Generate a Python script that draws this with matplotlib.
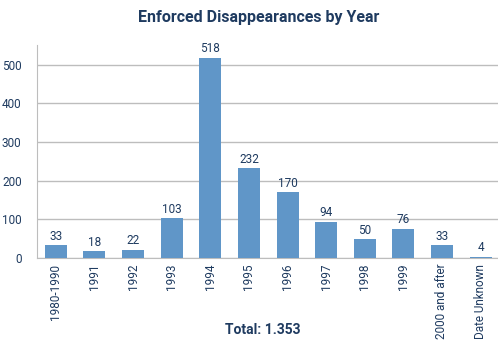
import matplotlib
matplotlib.use("Agg")
import matplotlib.pyplot as plt

categories = ["1980-1990", "1991", "1992", "1993", "1994", "1995", "1996",
              "1997", "1998", "1999", "2000 and after", "Date Unknown"]
values = [33, 18, 22, 103, 518, 232, 170, 94, 50, 76, 33, 4]
yticks = [0, 100, 200, 300, 400, 500]
title = "Enforced Disappearances by Year"
total_label = "Total: 1.353"

navy = "#1f3b60"
bar_color = "#6096c8"
grid_color = "#bdbdbd"

plt.rcParams['font.family'] = ['Roboto', 'DejaVu Sans']

fig = plt.figure(figsize=(4.98, 3.42), dpi=100)
ax = fig.add_axes([0.074, 0.245, 0.926, 0.623])

x = range(len(categories))
bars = ax.bar(x, values, width=0.57, color=bar_color, zorder=3)
for xi, v in zip(x, values):
    ax.text(xi, v + 6, str(v), ha='center', va='bottom', fontsize=8.5, color=navy)

ax.set_xlim(-0.49, 11.45)
ax.set_ylim(0, 550)
ax.set_yticks(yticks)
ax.set_xticks(list(x))
ax.set_xticklabels(categories, rotation=90, fontsize=8.5, color=navy)
ax.tick_params(axis='y', labelsize=8.5, labelcolor=navy, length=0, pad=11)
ax.tick_params(axis='x', length=0, pad=4)
ax.grid(axis='y', color=grid_color, linewidth=1, zorder=0)
for s in ['top', 'right']:
    ax.spines[s].set_visible(False)
ax.spines['left'].set_color(grid_color)
ax.spines['bottom'].set_color(grid_color)

fig.text(0.52, 0.95, title, ha='center', va='center', fontsize=11.5,
         fontweight='bold', color=navy)
fig.text(0.527, 0.035, total_label, ha='center', va='center', fontsize=10,
         fontweight='bold', color=navy)

fig.savefig("out.png", dpi=100)
